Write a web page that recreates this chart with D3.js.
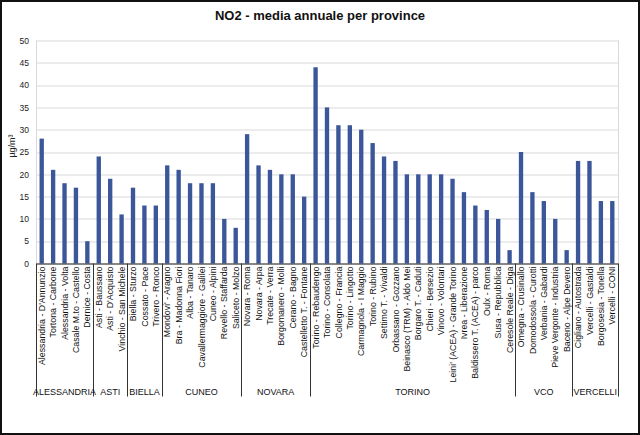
<!DOCTYPE html>
<html>
<head>
<meta charset="utf-8">
<script src="https://cdn.jsdelivr.net/npm/d3@7"></script>
<style>
body { margin: 0; background: #fff; }
svg { display: block; font-family: Arial, "Liberation Sans", sans-serif; }
</style>
</head>
<body>
<script>
// stations, yearly mean NO2 (µg/m3) and province of each station
var stations = ["Alessandria - D'Annunzio","Tortona - Carbone","Alessandria - Volta","Casale M.to - Castello","Dernice - Costa",
  "Asti - Baussano","Asti - D'Acquisto","Vinchio - San Michele",
  "Biella - Sturzo","Cossato - Pace","Trivero - Ronco",
  "Mondovi' - Aragno","Bra - Madonna Fiori","Alba - Tanaro","Cavallermaggiore - Galilei","Cuneo - Alpini","Revello - Staffarda","Saliceto - Molzo",
  "Novara - Roma","Novara - Arpa","Trecate - Verra","Borgomanero - Molli","Cerano - Bagno","Castelletto T. - Fontane",
  "Torino - Rebaudengo","Torino - Consolata","Collegno - Francia","Torino - Lingotto","Carmagnola - I Maggio","Torino - Rubino",
  "Settimo T. - Vivaldi","Orbassano - Gozzano","Beinasco (TRM) - Aldo Mei","Borgaro T. - Caduti","Chieri - Bersezio","Vinovo - Volontari",
  "Leini' (ACEA) - Grande Torino","Ivrea - Liberazione","Baldissero T. (ACEA) - parco","Oulx - Roma","Susa - Repubblica","Ceresole Reale - Diga",
  "Omegna - Crusinallo","Domodossola - Curotti","Verbania - Gabardi","Pieve Vergonte - Industria","Baceno - Alpe Devero",
  "Cigliano - Autostrada","Vercelli - Gastaldi","Borgosesia - Tonella","Vercelli - CONI"];

var values = [28,21,18,17,5,
  24,19,11,
  17,13,13,
  22,21,18,18,18,10,8,
  29,22,21,20,20,15,
  44,35,31,31,30,27,24,23,20,20,20,20,19,16,13,12,10,3,
  25,16,14,10,3,
  23,23,14,14];

var provinces = ["ALESSANDRIA","ASTI","BIELLA","CUNEO","NOVARA","TORINO","VCO","VERCELLI"];
var provinceCount = [5,3,3,7,6,18,5,4];

var yTicks = [0,5,10,15,20,25,30,35,40,45,50];

var W = 640, H = 435;
var margin = {top: 40.5, right: 22, bottom: 171.5, left: 36};
var width = W - margin.left - margin.right,
    height = H - margin.top - margin.bottom;

var svg = d3.select("body").append("svg")
  .attr("width", W)
  .attr("height", H);

svg.append("rect")
  .attr("x", 1).attr("y", 1)
  .attr("width", W - 2).attr("height", H - 2)
  .attr("fill", "#fff")
  .attr("stroke", "#111")
  .attr("stroke-width", 2);

svg.append("text")
  .attr("x", 320)
  .attr("y", 20)
  .attr("text-anchor", "middle")
  .style("font-size", "13px")
  .style("font-weight", "bold")
  .attr("fill", "#111")
  .text("NO2 - media annuale per province");

var g = svg.append("g").attr("transform", "translate(" + margin.left + "," + margin.top + ")");

var x = d3.scaleBand()
  .domain(stations)
  .range([0, width])
  .paddingInner(0.62)
  .paddingOuter(0.31);

var y = d3.scaleLinear()
  .domain([0, 50])
  .range([height, 0]);

// grid
g.selectAll(".grid")
  .data(yTicks)
  .enter().append("line")
  .attr("class", "grid")
  .attr("x1", 0).attr("x2", width)
  .attr("y1", function(d) { return Math.round(y(d)) + 0.5; })
  .attr("y2", function(d) { return Math.round(y(d)) + 0.5; })
  .attr("stroke", "#d9d9d9");

g.append("line")
  .attr("x1", width + 0.5).attr("x2", width + 0.5)
  .attr("y1", 0).attr("y2", height)
  .attr("stroke", "#d9d9d9");
g.append("line")
  .attr("x1", 0.5).attr("x2", 0.5)
  .attr("y1", 0).attr("y2", height)
  .attr("stroke", "#d9d9d9");

// bars
g.selectAll(".bar")
  .data(stations)
  .enter().append("rect")
  .attr("class", "bar")
  .attr("x", function(d) { return x(d); })
  .attr("y", function(d, i) { return y(values[i]); })
  .attr("width", x.bandwidth())
  .attr("height", function(d, i) { return height - y(values[i]); })
  .attr("fill", "#3b5699");

// y axis
var yAxis = g.append("g")
  .call(d3.axisLeft(y).tickValues(yTicks).tickSize(0).tickPadding(7));
yAxis.select(".domain").remove();
yAxis.selectAll("text")
  .style("font-size", "8.5px")
  .style("font-family", "Arial, 'Liberation Sans', sans-serif")
  .attr("fill", "#222");

svg.append("text")
  .attr("transform", "translate(15,146) rotate(-90)")
  .attr("text-anchor", "middle")
  .style("font-size", "9px")
  .attr("fill", "#222")
  .text("µg/m³");

// x axis
var xAxis = g.append("g")
  .attr("transform", "translate(0," + height + ")")
  .call(d3.axisBottom(x).tickSize(0).tickPadding(3));
xAxis.select(".domain").attr("stroke", "#222");
xAxis.selectAll("text")
  .style("font-size", "8.8px")
  .style("font-family", "Arial, 'Liberation Sans', sans-serif")
  .attr("fill", "#111")
  .attr("transform", "rotate(-90)")
  .attr("x", -3)
  .attr("y", 0)
  .attr("dy", "0.35em")
  .style("text-anchor", "end");

// province groups
var step = x.step();
var starts = [];
var acc = 0;
provinceCount.forEach(function(c) { starts.push(acc); acc += c; });
var groupLeft = function(i) { return i === 0 ? 0 : x(stations[starts[i]]) - step * x.paddingInner() / 2; };
var bounds = provinces.map(function(p, i) { return groupLeft(i); });
bounds.push(width);

g.selectAll(".sep")
  .data(bounds)
  .enter().append("line")
  .attr("class", "sep")
  .attr("x1", function(d) { return Math.round(d) + 0.5; })
  .attr("x2", function(d) { return Math.round(d) + 0.5; })
  .attr("y1", height)
  .attr("y2", height + 133)
  .attr("stroke", "#333");

g.selectAll(".prov")
  .data(provinces)
  .enter().append("text")
  .attr("class", "prov")
  .attr("x", function(d, i) { return (bounds[i] + bounds[i + 1]) / 2; })
  .attr("y", height + 131)
  .attr("text-anchor", "middle")
  .style("font-size", "9px")
  .attr("fill", "#111")
  .text(function(d) { return d; });
</script>
</body>
</html>
